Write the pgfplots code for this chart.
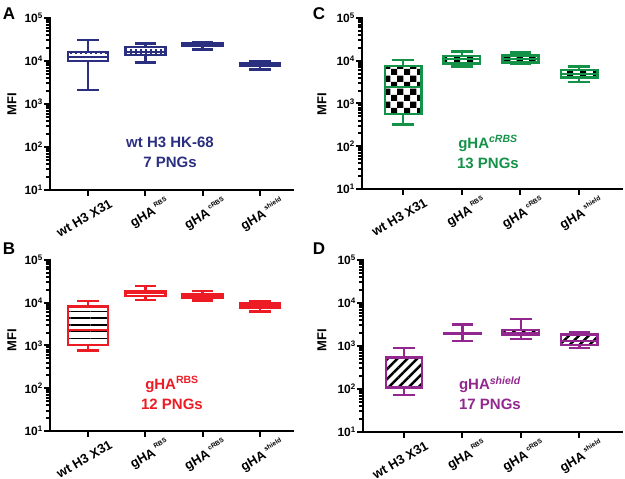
\documentclass[border=0pt]{standalone}
\usepackage{fontspec}
\setmainfont{Liberation Sans}
\usepackage{xfp}
\usepackage{pgfplots}
\pgfplotsset{compat=1.18}
\usepgfplotslibrary{statistics}
\usetikzlibrary{patterns,patterns.meta}

\definecolor{cA}{RGB}{43,47,127}
\definecolor{cB}{RGB}{237,28,36}
\definecolor{cC}{RGB}{20,146,72}
\definecolor{cD}{RGB}{146,39,143}

\pgfdeclarepatternformonly{bigchecker}{\pgfpointorigin}{\pgfqpoint{12.6pt}{12.6pt}}{\pgfqpoint{12.6pt}{12.6pt}}{%
  \pgfpathrectangle{\pgfpointorigin}{\pgfqpoint{6.3pt}{6.3pt}}%
  \pgfpathrectangle{\pgfqpoint{6.3pt}{6.3pt}}{\pgfqpoint{6.3pt}{6.3pt}}%
  \pgfusepath{fill}}
\pgfdeclarepatternformonly{dotrows}{\pgfqpoint{-1pt}{-1pt}}{\pgfqpoint{5pt}{3.6pt}}{\pgfqpoint{5pt}{3.6pt}}{%
  \pgfpathrectangle{\pgfpointorigin}{\pgfqpoint{1.8pt}{1.8pt}}%
  \pgfusepath{fill}}

% box: position, lower whisker, lower quartile, median, upper quartile, upper whisker (MFI values, drawn on a log10 scale)
\newcommand{\bx}[6]{%
  \edef\bxcmd{\noexpand\addplot[boxplot prepared={draw position=#1,
    lower whisker=\fpeval{round(ln(#2)/ln(10),5)},
    lower quartile=\fpeval{round(ln(#3)/ln(10),5)},
    median=\fpeval{round(ln(#4)/ln(10),5)},
    upper quartile=\fpeval{round(ln(#5)/ln(10),5)},
    upper whisker=\fpeval{round(ln(#6)/ln(10),5)}}] coordinates {};}%
  \bxcmd}
\newcommand{\sps}[1]{\,\raisebox{0.95ex}{\fontsize{6.5}{7}\selectfont #1}}

\newcommand{\beginpanel}[1]{\begin{axis}[
    scale only axis,
    ymin=1, ymax=5,
    axis lines*=left,
    axis line style={line width=2.6pt, line cap=rect, black},
    ytick={1,2,3,4,5},
    yticklabels={10\textsuperscript{1},10\textsuperscript{2},10\textsuperscript{3},10\textsuperscript{4},10\textsuperscript{5}},
    minor ytick={1.30103,1.47712,1.60206,1.69897,1.77815,1.84510,1.90309,1.95424,
                 2.30103,2.47712,2.60206,2.69897,2.77815,2.84510,2.90309,2.95424,
                 3.30103,3.47712,3.60206,3.69897,3.77815,3.84510,3.90309,3.95424,
                 4.30103,4.47712,4.60206,4.69897,4.77815,4.84510,4.90309,4.95424},
    xtick={0,1,2,3},
    xticklabels={wt H3 X31, gHA\sps{RBS}, gHA\sps{cRBS}, gHA\sps{shield}},
    tick align=outside, tick pos=left,
    major tick length=6pt, minor tick length=4pt,
    tick style={line width=2pt, black},
    xticklabel style={xshift=26pt, yshift=-5pt, rotate=30, anchor=east, font=\fontsize{13}{13}\selectfont\bfseries},
    yticklabel style={font=\fontsize{12}{12}\selectfont\bfseries, inner sep=1pt},
    clip=false,
    boxplot/draw direction=y,
    boxplot/whisker extend=0.37,
    boxplot/every median/.style={line width=2pt},
    #1]}

\begin{document}
\begin{tikzpicture}
\path[use as bounding box] (0,0) rectangle (625pt,479pt);

% Panel A
\beginpanel{at={(50pt,289pt)}, anchor=south west, width=243pt, height=172pt,
  xmin=-0.663, xmax=3.576, boxplot/box extend=0.7,
  every axis plot/.append style={draw=cA, line width=2.5pt, line join=miter},
  boxplot/every box/.style={pattern=dotrows, pattern color=cA}}
\bx{0}{2100}{10000}{12600}{16400}{31000}
\bx{1}{9300}{13800}{16400}{21000}{25700}
\bx{2}{18500}{23000}{24600}{26500}{28000}
\bx{3}{6400}{7600}{8500}{9100}{10000}
\end{axis}

% Panel C
\beginpanel{at={(362pt,290pt)}, anchor=south west, width=260pt, height=171pt,
  xmin=-0.70, xmax=3.73, boxplot/box extend=0.62,
  every axis plot/.append style={draw=cC, line width=2.5pt, line join=miter},
  boxplot/every box/.style={pattern=bigchecker, pattern color=black}}
\bx{0}{325}{570}{2450}{7500}{10400}
\bx{1}{7300}{8700}{11000}{12900}{16300}
\bx{2}{8300}{9100}{10800}{13400}{15400}
\bx{3}{3200}{4100}{5000}{6000}{7300}
\end{axis}

% Panel B
\beginpanel{at={(50pt,48pt)}, anchor=south west, width=243pt, height=171pt,
  xmin=-0.663, xmax=3.576, boxplot/box extend=0.7,
  every axis plot/.append style={draw=cB, line width=2.5pt, line join=miter},
  boxplot/every box/.style={pattern={Lines[angle=0, distance=6.7pt, line width=1.5pt]}, pattern color=black}}
\bx{0}{760}{1020}{2300}{8100}{11000}
\bx{1}{11600}{14500}{16600}{18800}{24600}
\bx{2}{11200}{13200}{14500}{15800}{18700}
\bx{3}{6300}{7800}{8600}{9700}{11000}
\end{axis}

% Panel D
\beginpanel{at={(363pt,47pt)}, anchor=south west, width=259pt, height=172pt,
  xmin=-0.70, xmax=3.73, boxplot/box extend=0.62,
  every axis plot/.append style={draw=cD, line width=2.5pt, line join=miter},
  boxplot/every box/.style={pattern={Lines[angle=45, distance=7pt, line width=2.5pt]}, pattern color=black}}
\bx{0}{72}{107}{110}{535}{910}
\bx{1}{1320}{1900}{1950}{2000}{3200}
\bx{2}{1450}{1800}{1960}{2350}{4200}
\bx{3}{890}{1050}{1300}{1870}{2100}
\end{axis}

% panel letters
\begin{scope}[every node/.style={font=\fontsize{17}{17}\selectfont\bfseries}]
\node at (9pt,465pt) {A};
\node at (319pt,465pt) {C};
\node at (9pt,230.5pt) {B};
\node at (319pt,230.5pt) {D};
\end{scope}

% y labels
\begin{scope}[every node/.style={font=\fontsize{13}{13}\selectfont\bfseries, rotate=90}]
\node at (12pt,375pt) {MFI};
\node at (322pt,375pt) {MFI};
\node at (12pt,139pt) {MFI};
\node at (322pt,139pt) {MFI};
\end{scope}

% annotations
\begin{scope}[every node/.style={align=center, font=\fontsize{15}{20}\selectfont\bfseries}]
\node[text=cA] at (170pt,327pt) {wt H3 HK-68\\7 PNGs};
\node[text=cC] at (488pt,327pt) {gHA\textsuperscript{\textit{cRBS}}\\13 PNGs};
\node[text=cB] at (172pt,86pt) {gHA\textsuperscript{RBS}\\12 PNGs};
\node[text=cD] at (490pt,86pt) {gHA\textsuperscript{\textit{shield}}\\17 PNGs};
\end{scope}
\end{tikzpicture}
\end{document}
